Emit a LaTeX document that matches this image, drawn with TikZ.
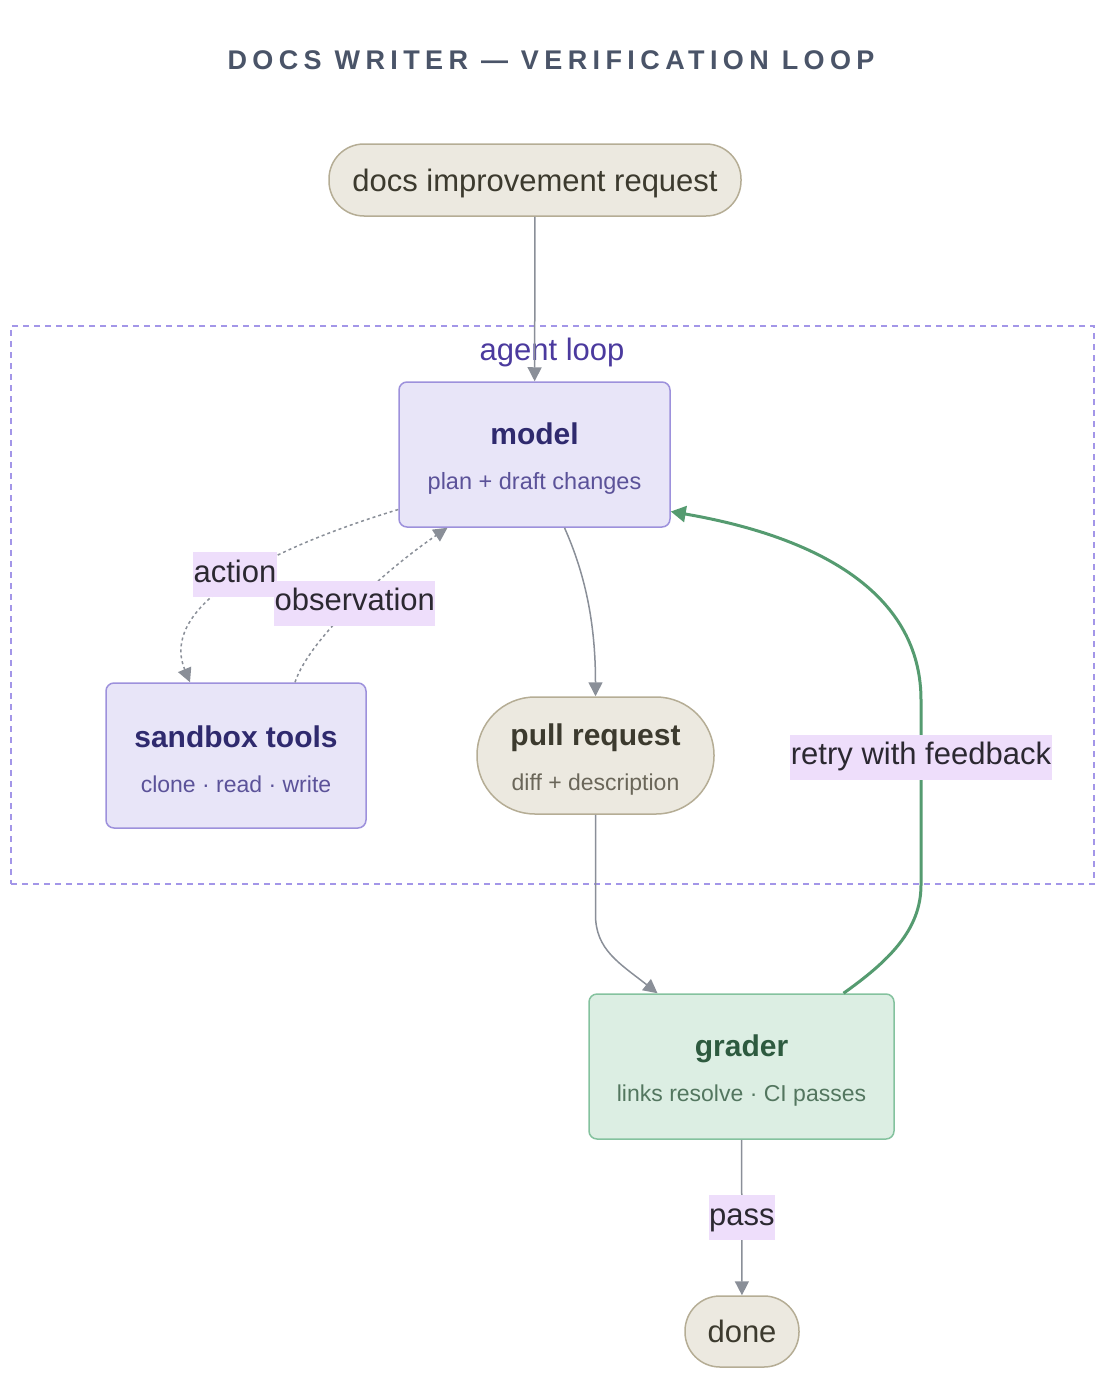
\documentclass[tikz,border=0pt]{standalone}
\usepackage{fontspec}
\setmainfont{Liberation Sans}
\newfontfamily\headfont[LetterSpace=20]{Liberation Sans}
\usepackage{xcolor}
\usetikzlibrary{arrows.meta, positioning, calc}
\newcommand{\boxhead}[1]{{\fontsize{30}{36}\selectfont\bfseries\rule{0pt}{30pt}#1}}
\definecolor{titleslate}{HTML}{4A5468}
\definecolor{pillfill}{HTML}{ECE9E0}
\definecolor{pilldraw}{HTML}{B5AD95}
\definecolor{pillink}{HTML}{3C3A2E}
\definecolor{pillsub}{HTML}{6A6659}
\definecolor{loopline}{HTML}{A396E8}
\definecolor{loopink}{HTML}{4B3A9E}
\definecolor{agentfill}{HTML}{E8E5F8}
\definecolor{agentdraw}{HTML}{9D91DC}
\definecolor{agentink}{HTML}{2F2A6E}
\definecolor{agentsub}{HTML}{5B5299}
\definecolor{gradefill}{HTML}{DCEEE3}
\definecolor{gradedraw}{HTML}{84C29E}
\definecolor{gradeink}{HTML}{2D5A3F}
\definecolor{gradesub}{HTML}{53765F}
\definecolor{edgegrey}{HTML}{8A8F98}
\definecolor{retrygreen}{HTML}{559B70}
\definecolor{tagfill}{HTML}{EEDEFB}
\definecolor{tagink}{HTML}{2B2831}

\begin{document}
\begin{tikzpicture}[
  x=1pt, y=-1pt,
  font=\fontsize{31}{36}\selectfont,
  every node/.style={align=center, inner sep=0pt},
  flow/.style={-{Triangle[length=14pt, width=14pt]}, line width=1.5pt, draw=edgegrey},
  probe/.style={flow, dash pattern=on 3pt off 3pt},
  retry/.style={-{Triangle[length=15pt, width=16pt]}, line width=3pt, draw=retrygreen},
  pill/.style={draw=pilldraw, fill=pillfill, line width=1.5pt, text=pillink, rounded corners=#1},
  stagebox/.style={line width=1.5pt, rounded corners=8pt, minimum width=#1, minimum height=145pt,
    font=\fontsize{23}{45}\selectfont},
  agentbox/.style={stagebox=#1, draw=agentdraw, fill=agentfill, text=agentsub},
  gradebox/.style={stagebox=#1, draw=gradedraw, fill=gradefill, text=gradesub},
  loopbox/.style={draw=loopline, dash pattern=on 6pt off 5pt, line width=1.5pt},
  edgelbl/.style={fill=tagfill, text=tagink, text height=22pt, text depth=7pt, inner xsep=0.5pt, inner ysep=8pt}
]
\useasboundingbox (0,0) rectangle (1112,1394);

\node[text=titleslate, font=\fontsize{27}{30}\headfont\bfseries] (title) at (551,60) {DOCS WRITER — VERIFICATION LOOP};

\node[pill=35pt, minimum width=412pt, minimum height=72pt, text height=29pt] (request) at (535,180) {docs improvement request};

\node[loopbox, minimum width=1083pt, minimum height=558pt] (loop) at (552.5,605) {};
\node[text=loopink] (looptag) at (552,352) {agent loop};

\node[agentbox=271pt] (model) at (534.5,454.5)
  {\textcolor{agentink}{\boxhead{model}}\\{\fontsize{23.5}{45}\selectfont plan + draft changes}};

\node[agentbox=260pt] (sandbox) at (236,755.5)
  {\textcolor{agentink}{\boxhead{sandbox tools}}\\clone · read · write};

\node[pill=58pt, minimum width=237pt, minimum height=117pt, text=pillsub,
  font=\fontsize{23}{45}\selectfont] (pr) at (595.5,755.5)
  {\textcolor{pillink}{\boxhead{pull request}}\\diff + description};

\node[gradebox=305pt] (grader) at (741.5,1066.5)
  {\textcolor{gradeink}{\boxhead{grader}}\\links resolve · CI passes};

\node[pill=35pt, minimum width=114pt, minimum height=71pt] (done) at (742,1331.5) {done};

\draw[flow] (request) -- (model);
\draw[probe] ([yshift=-55pt]model.west) .. controls +(-180,55) and +(-25,-60) .. ([xshift=-46pt]sandbox.north)
  node[edgelbl, pos=0.4, xshift=-5pt, yshift=2pt] {action};
\draw[probe] ([xshift=59pt]sandbox.north) .. controls +(15,-45) and +(-59,40) .. ([xshift=-87pt]model.south)
  node[edgelbl, pos=0.5] {observation};
\draw[flow] ([xshift=30pt]model.south) .. controls +(20,45) and +(0,-75) .. (pr.north);
\draw[flow] (pr.south) -- ++(0,100) .. controls +(0,35) and +(-38,-30) .. ([xshift=-84pt]grader.north);
\draw[retry] ([xshift=102pt]grader.north) .. controls +(45,-32) and +(0,45) .. (921,885)
  -- node[edgelbl, pos=0.69] {retry with feedback} (921,700)
  .. controls +(0,-95) and +(168,29) .. ([yshift=-57pt]model.east);
\draw[flow] (grader) -- node[edgelbl] {pass} (done);

\end{tikzpicture}
\end{document}
